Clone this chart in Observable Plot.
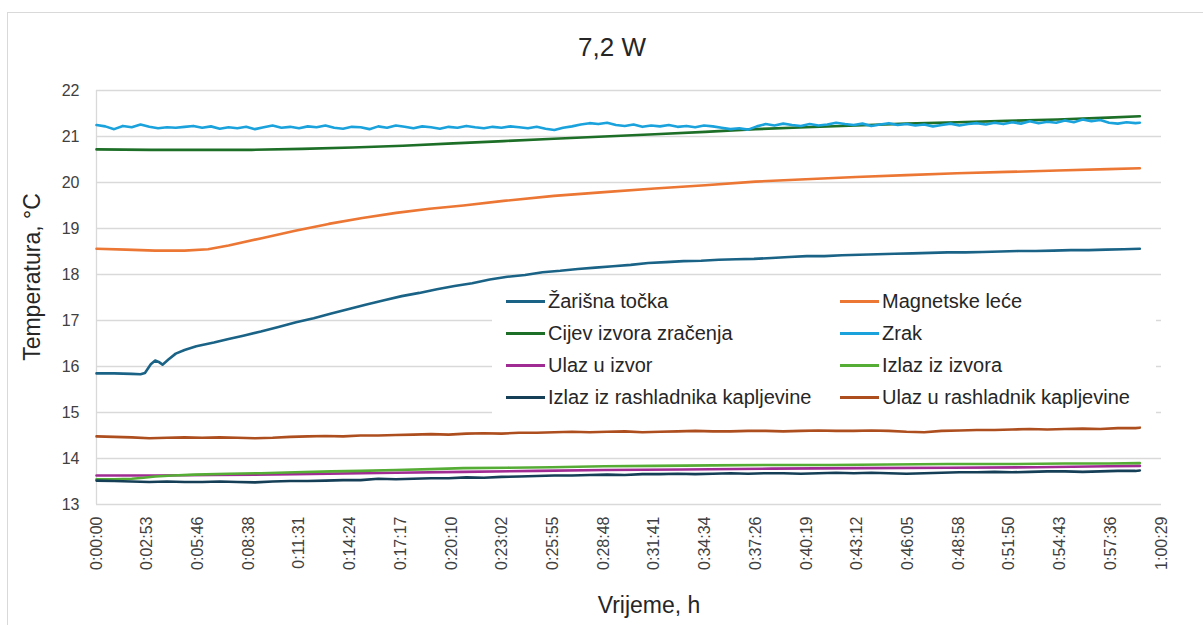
<!DOCTYPE html>
<html>
<head>
<meta charset="utf-8">
<script src="https://cdn.jsdelivr.net/npm/d3@7"></script>
<script src="https://cdn.jsdelivr.net/npm/@observablehq/plot@0.6"></script>
<style>
  body { margin: 0; background: #fff; font-family: "Liberation Sans", Arial, sans-serif; }
  #wrap { position: relative; width: 1203px; height: 625px; overflow: hidden; background: #fff; }
  #frame { position: absolute; left: 7px; top: 12px; width: 1240px; height: 660px; border: 1px solid #d9d9d9; box-sizing: border-box; }
  #chart { position: absolute; left: 0; top: 0; }
  #title { position: absolute; left: 0; width: 1224px; top: 31px; text-align: center; font-size: 26px; line-height: 32px; color: #262626; }
  #xlabel { position: absolute; left: 449px; width: 400px; top: 591px; text-align: center; font-size: 23px; line-height: 28px; color: #262626; }
  #ylabel { position: absolute; left: 32px; top: 277px; width: 400px; margin-left: -200px; margin-top: -14px; text-align: center; font-size: 23px; line-height: 28px; color: #262626; transform: rotate(-90deg); }
  #legend { position: absolute; left: 492px; top: 284px; width: 664px; height: 130px; background: #fff; }
  .item { position: absolute; font-size: 20px; line-height: 24px; color: #262626; white-space: nowrap; }
  .sw { position: absolute; height: 3px; width: 39px; }
</style>
</head>
<body>
<div id="wrap">
  <div id="frame"></div>
  <div id="chart"></div>
  <div id="title">7,2 W</div>
  <div id="ylabel">Temperatura, °C</div>
  <div id="xlabel">Vrijeme, h</div>
  <div id="legend"></div>
</div>
<script>
// ---- Series names and colours ----
const seriesNames = [
  "Žarišna točka",
  "Magnetske leće",
  "Cijev izvora zračenja",
  "Zrak",
  "Ulaz u izvor",
  "Izlaz iz izvora",
  "Izlaz iz rashladnika kapljevine",
  "Ulaz u rashladnik kapljevine"
];
const seriesColors = ["#1a6386", "#ec7634", "#1d6e27", "#1aa2dc", "#a02b93", "#56ad36", "#143f57", "#ad4e1f"];

// ---- Time (seconds) and temperature (°C) per series ----
const tFocus = [0,60,120,150,165,185,200,212,225,245,270,300,340,400,450,500,560,620,680,740,800,860,920,980,1040,1100,1160,1220,1280,1340,1400,1460,1520,1580,1640,1700,1760,1820,1880,1940,2000,2060,2120,2180,2240,2300,2360,2420,2480,2540,2600,2660,2720,2780,2840,2900,2960,3020,3080,3140,3200,3260,3320,3380,3440,3500,3555];
const vFocus = [15.85,15.85,15.84,15.83,15.86,16.05,16.13,16.10,16.04,16.15,16.28,16.36,16.44,16.52,16.60,16.67,16.76,16.86,16.96,17.05,17.15,17.25,17.35,17.44,17.53,17.60,17.68,17.75,17.81,17.89,17.95,17.99,18.05,18.08,18.12,18.15,18.18,18.21,18.25,18.27,18.29,18.30,18.32,18.33,18.34,18.36,18.38,18.40,18.40,18.42,18.43,18.44,18.45,18.46,18.47,18.48,18.48,18.49,18.50,18.51,18.51,18.52,18.53,18.53,18.54,18.55,18.56];

const tLens = [0,100,200,300,380,450,563,677,791,906,1021,1135,1250,1387,1559,1730,1902,2074,2245,2417,2588,2760,2932,3103,3275,3447,3555];
const vLens = [18.56,18.54,18.52,18.52,18.55,18.63,18.79,18.95,19.10,19.23,19.34,19.43,19.50,19.60,19.71,19.79,19.87,19.94,20.02,20.07,20.12,20.16,20.20,20.23,20.26,20.29,20.31];

const tTube = [0,185,357,529,700,872,1044,1215,1387,1559,1730,1902,2074,2245,2417,2588,2760,2932,3103,3275,3447,3555];
const vTube = [20.72,20.71,20.71,20.71,20.73,20.76,20.80,20.85,20.90,20.95,21.00,21.05,21.10,21.16,21.20,21.24,21.28,21.31,21.34,21.37,21.41,21.44];

const tAir = [0,30,60,90,120,150,180,210,240,270,300,330,360,390,420,450,480,510,540,570,600,630,660,690,720,750,780,810,840,870,900,930,960,990,1020,1050,1080,1110,1140,1170,1200,1230,1260,1290,1320,1350,1380,1410,1440,1470,1500,1530,1560,1590,1620,1650,1680,1710,1740,1770,1800,1830,1860,1890,1920,1950,1980,2010,2040,2070,2100,2130,2160,2190,2220,2250,2280,2310,2340,2370,2400,2430,2460,2490,2520,2550,2580,2610,2640,2670,2700,2730,2760,2790,2820,2850,2880,2910,2940,2970,3000,3030,3060,3090,3120,3150,3180,3210,3240,3270,3300,3330,3360,3390,3420,3450,3480,3510,3540,3555];
const vAir = [21.25,21.22,21.16,21.23,21.20,21.26,21.21,21.18,21.20,21.19,21.21,21.23,21.19,21.22,21.17,21.20,21.18,21.21,21.16,21.20,21.24,21.19,21.21,21.18,21.22,21.20,21.24,21.19,21.17,21.21,21.20,21.16,21.22,21.19,21.24,21.21,21.18,21.22,21.20,21.17,21.21,21.19,21.23,21.20,21.18,21.21,21.19,21.22,21.20,21.18,21.21,21.17,21.14,21.19,21.22,21.26,21.29,21.27,21.30,21.25,21.23,21.26,21.21,21.24,21.22,21.25,21.21,21.23,21.20,21.24,21.22,21.19,21.16,21.18,21.15,21.22,21.27,21.24,21.28,21.25,21.23,21.27,21.24,21.26,21.30,21.27,21.25,21.28,21.23,21.26,21.29,21.25,21.27,21.24,21.26,21.22,21.25,21.28,21.24,21.27,21.29,21.26,21.30,21.27,21.31,21.28,21.33,21.29,21.32,21.30,21.35,21.31,21.37,21.33,21.36,21.30,21.28,21.31,21.29,21.30];

const tInlet = [0,200,400,676,1020,1250,1500,1730,2000,2300,2600,2900,3200,3450,3555];
const vInlet = [13.63,13.63,13.64,13.66,13.69,13.71,13.73,13.75,13.76,13.78,13.79,13.80,13.81,13.83,13.84];

const tOutlet = [0,60,120,160,200,260,333,450,560,676,800,900,1020,1140,1250,1400,1550,1730,1900,2100,2300,2500,2700,2900,3100,3300,3450,3555];
const vOutlet = [13.55,13.55,13.56,13.58,13.61,13.63,13.65,13.67,13.68,13.70,13.72,13.73,13.75,13.77,13.79,13.80,13.81,13.83,13.84,13.85,13.86,13.86,13.87,13.88,13.88,13.89,13.89,13.90];

const tCoolOut = [0,60,120,180,240,300,360,420,480,540,600,660,720,780,840,900,960,1020,1080,1140,1200,1260,1320,1380,1440,1500,1560,1620,1680,1740,1800,1860,1920,1980,2040,2100,2160,2220,2280,2340,2400,2460,2520,2580,2640,2700,2760,2820,2880,2940,3000,3060,3120,3180,3240,3300,3360,3420,3480,3540,3555];
const vCoolOut = [13.52,13.51,13.50,13.49,13.50,13.49,13.49,13.50,13.49,13.48,13.50,13.51,13.51,13.52,13.53,13.53,13.56,13.55,13.56,13.57,13.57,13.59,13.58,13.60,13.61,13.62,13.63,13.63,13.64,13.65,13.64,13.66,13.66,13.67,13.66,13.67,13.68,13.67,13.68,13.68,13.67,13.68,13.69,13.68,13.69,13.68,13.67,13.68,13.69,13.70,13.70,13.71,13.70,13.71,13.72,13.72,13.71,13.72,13.73,13.73,13.74];

const tCoolIn = [0,60,120,180,240,300,360,420,480,540,600,660,720,780,840,900,960,1020,1080,1140,1200,1260,1320,1380,1440,1500,1560,1620,1680,1740,1800,1860,1920,1980,2040,2100,2160,2220,2280,2340,2400,2460,2520,2580,2640,2700,2760,2820,2880,2940,3000,3060,3120,3180,3240,3300,3360,3420,3480,3540,3555];
const vCoolIn = [14.48,14.47,14.46,14.44,14.45,14.46,14.45,14.46,14.45,14.44,14.45,14.47,14.48,14.49,14.48,14.50,14.50,14.51,14.52,14.53,14.52,14.54,14.55,14.54,14.56,14.56,14.57,14.58,14.57,14.58,14.59,14.57,14.58,14.59,14.60,14.59,14.59,14.60,14.60,14.59,14.60,14.61,14.60,14.60,14.61,14.60,14.58,14.57,14.60,14.61,14.62,14.62,14.63,14.64,14.63,14.64,14.65,14.64,14.66,14.66,14.67];

// ---- Axis ticks ----
const yTicks = [13,14,15,16,17,18,19,20,21,22];
const xTickStep = 172.8; // seconds between category labels
const xTickCount = 22;
const xMax = 3628.8;

// ---- Build table ----
const seriesT = [tFocus, tLens, tTube, tAir, tInlet, tOutlet, tCoolOut, tCoolIn];
const seriesV = [vFocus, vLens, vTube, vAir, vInlet, vOutlet, vCoolOut, vCoolIn];
const rows = [];
seriesNames.forEach((name, i) => {
  seriesT[i].forEach((t, j) => rows.push({series: name, t, v: seriesV[i][j]}));
});
const xTicks = d3.range(xTickCount).map(k => k * xTickStep);
const fmtTime = s => {
  const r = Math.round(s);
  const h = Math.floor(r / 3600), m = Math.floor((r % 3600) / 60), sec = r % 60;
  return `${h}:${String(m).padStart(2, "0")}:${String(sec).padStart(2, "0")}`;
};

const chart = Plot.plot({
  width: 1203,
  height: 625,
  marginLeft: 96,
  marginRight: 42,
  marginTop: 90,
  marginBottom: 121,
  style: {fontFamily: "'Liberation Sans', Arial, sans-serif", color: "#404040", background: "transparent"},
  x: {domain: [0, xMax], ticks: xTicks, tickFormat: fmtTime, label: null},
  y: {domain: [13, 22], ticks: yTicks, label: null},
  color: {domain: seriesNames, range: seriesColors},
  marks: [
    Plot.ruleY(yTicks, {stroke: "#d9d9d9", strokeWidth: 1.3}),
    Plot.ruleX([0], {stroke: "#d9d9d9", strokeWidth: 1.3}),
    Plot.axisY({ticks: yTicks, tickSize: 0, tickPadding: 17, fontSize: 16, label: null, tickFormat: d => String(d), fill: "#404040"}),
    Plot.axisX({ticks: xTicks, tickSize: 0, tickPadding: 12, tickRotate: -90, fontSize: 16, label: null, tickFormat: fmtTime, fill: "#404040"}),
    Plot.line(rows, {x: "t", y: "v", z: "series", stroke: "series", strokeWidth: 2.6, curve: "linear"})
  ]
});
document.getElementById("chart").appendChild(chart);

// ---- Legend ----
const legend = document.getElementById("legend");
const colX = [14, 348];      // swatch left within legend box
const rowY = [17, 49, 81, 113]; // row centres within legend box
seriesNames.forEach((name, i) => {
  const col = i % 2, row = Math.floor(i / 2);
  const sw = document.createElement("div");
  sw.className = "sw";
  sw.style.left = colX[col] + "px";
  sw.style.top = (rowY[row] - 1.5) + "px";
  sw.style.background = seriesColors[i];
  legend.appendChild(sw);
  const tx = document.createElement("div");
  tx.className = "item";
  tx.style.left = (colX[col] + 42) + "px";
  tx.style.top = (rowY[row] - 12) + "px";
  tx.textContent = name;
  legend.appendChild(tx);
});
</script>
</body>
</html>
